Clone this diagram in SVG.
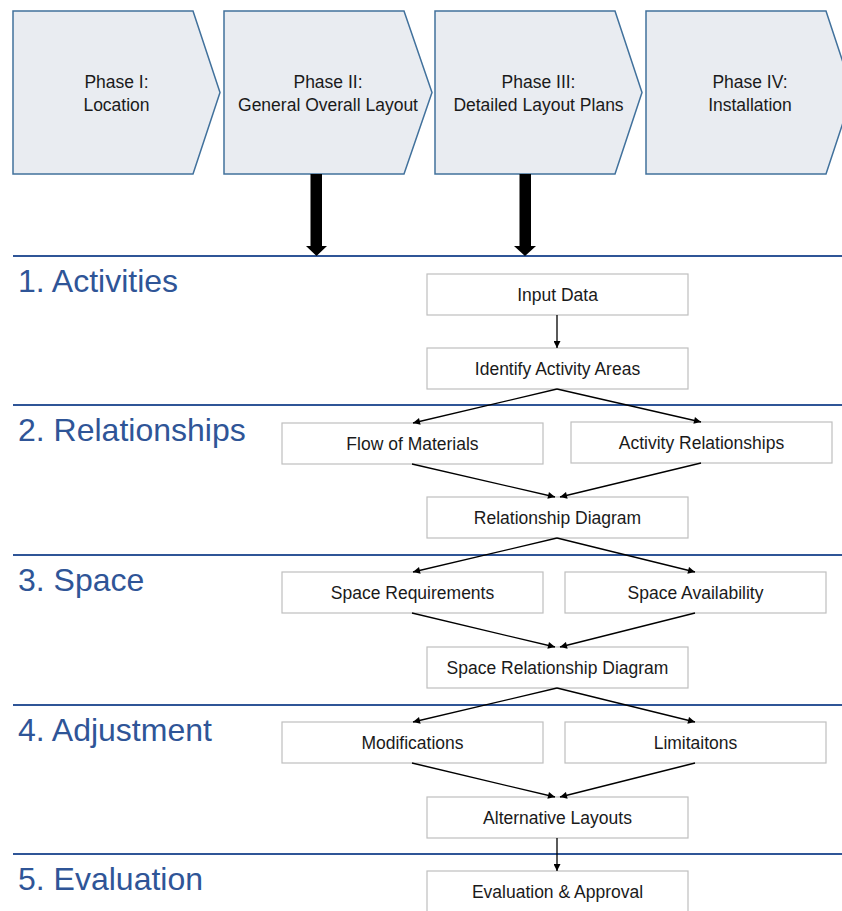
<svg xmlns="http://www.w3.org/2000/svg" width="842" height="911" viewBox="0 0 842 911">
<defs>
<style>
.phase{fill:#e9ecf1;stroke:#41719c;stroke-width:1.5}
.pt{font-family:"Liberation Sans",Arial,sans-serif;font-size:17.5px;fill:#1a1a1a;text-anchor:middle}
.sec{stroke:#2f5597;stroke-width:2}
.st{font-family:"Liberation Sans",Arial,sans-serif;font-size:32px;fill:#2f5597}
.box{fill:#ffffff;stroke:#bfbfbf;stroke-width:1.2}
.bt{font-family:"Liberation Sans",Arial,sans-serif;font-size:17.5px;fill:#1a1a1a;text-anchor:middle}
.con{stroke:#000;stroke-width:1.3;fill:none;marker-end:url(#ah)}
</style>
<marker id="ah" viewBox="0 0 10 10" refX="10" refY="5" markerWidth="8" markerHeight="7" markerUnits="userSpaceOnUse" orient="auto">
<path d="M0,0 L10,5 L0,10 z" fill="#000"/>
</marker>
</defs>
<rect width="842" height="911" fill="#ffffff"/>

<g id="phase1"><polygon class="phase" points="13,11 193,11 220,92.5 193,174 13,174"/><text class="pt" x="116.5" y="87.5">Phase I:</text><text class="pt" x="116.5" y="110.5">Location</text></g>
<g id="phase2"><polygon class="phase" points="224,11 404,11 432,92.5 404,174 224,174"/><text class="pt" x="328" y="87.5">Phase II:</text><text class="pt" x="328" y="110.5">General Overall Layout</text></g>
<g id="phase3"><polygon class="phase" points="435,11 615,11 642,92.5 615,174 435,174"/><text class="pt" x="538.5" y="87.5">Phase III:</text><text class="pt" x="538.5" y="110.5">Detailed Layout Plans</text></g>
<g id="phase4"><polygon class="phase" points="646,11 826,11 853,92.5 826,174 646,174"/><text class="pt" x="750" y="87.5">Phase IV:</text><text class="pt" x="750" y="110.5">Installation</text></g>

<g id="sections">
<line class="sec" x1="13" y1="256" x2="842" y2="256"/>
<line class="sec" x1="13" y1="405" x2="842" y2="405"/>
<line class="sec" x1="13" y1="555" x2="842" y2="555"/>
<line class="sec" x1="13" y1="705" x2="842" y2="705"/>
<line class="sec" x1="13" y1="854" x2="842" y2="854"/>
<text class="st" x="18" y="292">1. Activities</text>
<text class="st" x="18" y="441">2. Relationships</text>
<text class="st" x="18" y="591">3. Space</text>
<text class="st" x="18" y="741">4. Adjustment</text>
<text class="st" x="18" y="890">5. Evaluation</text>
</g>

<g id="input-data"><rect class="box" x="427" y="274" width="261" height="41"/><text class="bt" x="557.5" y="300.5">Input Data</text></g>
<g id="identify"><rect class="box" x="427" y="348" width="261" height="41"/><text class="bt" x="557.5" y="374.5">Identify Activity Areas</text></g>
<g id="flow"><rect class="box" x="282" y="423" width="261" height="41"/><text class="bt" x="412.5" y="449.5">Flow of Materials</text></g>
<g id="activity-rel"><rect class="box" x="571" y="422" width="261" height="41"/><text class="bt" x="701.5" y="448.5">Activity Relationships</text></g>
<g id="rel-diagram"><rect class="box" x="427" y="497" width="261" height="41"/><text class="bt" x="557.5" y="523.5">Relationship Diagram</text></g>
<g id="space-req"><rect class="box" x="282" y="572" width="261" height="41"/><text class="bt" x="412.5" y="598.5">Space Requirements</text></g>
<g id="space-avail"><rect class="box" x="565" y="572" width="261" height="41"/><text class="bt" x="695.5" y="598.5">Space Availability</text></g>
<g id="space-rel"><rect class="box" x="427" y="647" width="261" height="41"/><text class="bt" x="557.5" y="673.5">Space Relationship Diagram</text></g>
<g id="modifications"><rect class="box" x="282" y="722" width="261" height="41"/><text class="bt" x="412.5" y="748.5">Modifications</text></g>
<g id="limitations"><rect class="box" x="565" y="722" width="261" height="41"/><text class="bt" x="695.5" y="748.5">Limitaitons</text></g>
<g id="alternatives"><rect class="box" x="427" y="797" width="261" height="41"/><text class="bt" x="557.5" y="823.5">Alternative Layouts</text></g>
<g id="evaluation"><rect class="box" x="427" y="871" width="261" height="41"/><text class="bt" x="557.5" y="897.5">Evaluation &amp; Approval</text></g>

<g id="connectors">
<path d="M310.5,174 H322 V246 H327 L316.5,256 L306,246 H310.5 Z" fill="#000"/>
<path d="M519.5,174 H531 V246 H536 L525,256 L514,246 H519.5 Z" fill="#000"/>
<line class="con" x1="557" y1="315" x2="557" y2="348"/>
<line class="con" x1="557" y1="389" x2="413" y2="423"/>
<line class="con" x1="557" y1="389" x2="701" y2="422"/>
<line class="con" x1="412" y1="464" x2="555" y2="497"/>
<line class="con" x1="701" y1="463" x2="560" y2="497"/>
<line class="con" x1="557" y1="538" x2="413" y2="572"/>
<line class="con" x1="557" y1="538" x2="695" y2="572"/>
<line class="con" x1="412" y1="613" x2="555" y2="647"/>
<line class="con" x1="695" y1="613" x2="560" y2="647"/>
<line class="con" x1="557" y1="688" x2="413" y2="722"/>
<line class="con" x1="557" y1="688" x2="695" y2="722"/>
<line class="con" x1="412" y1="763" x2="555" y2="797"/>
<line class="con" x1="695" y1="763" x2="560" y2="797"/>
<line class="con" x1="557" y1="838" x2="557" y2="871"/>
</g>
</svg>
